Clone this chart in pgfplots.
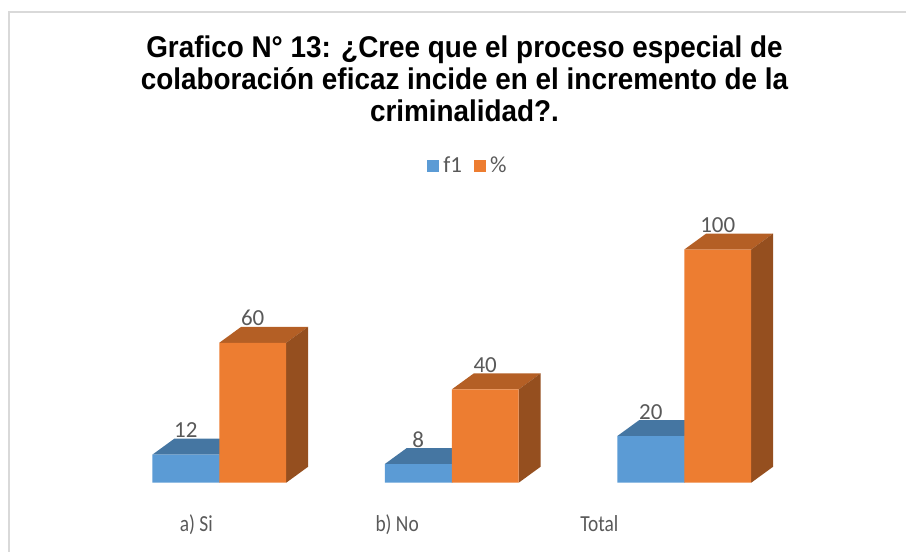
\documentclass[border=0pt]{standalone}
\usepackage{fontspec}
\setmainfont{Carlito}[FakeStretch=0.845]
\newfontfamily\lblfont{Carlito}
\newfontfamily\titlefont{Liberation Sans}[FakeStretch=0.93]
\usepackage{pgfplots}
\pgfplotsset{compat=1.18}
\usepackage{pgfplotstable}
\definecolor{f1front}{HTML}{5B9BD5}
\colorlet{f1top}{f1front!76!black}
\colorlet{f1side}{f1front!62!black}
\definecolor{pfront}{HTML}{ED7D31}
\colorlet{ptop}{pfront!76!black}
\colorlet{pside}{pfront!63!black}
\definecolor{textgray}{HTML}{595959}

\pgfplotstableread{
x f1 pct
0 12 60
1 8 40
2 20 100
}\datatable

\def\bw{0.288}
\def\dx{0.0945}
\def\dy{6.86}
\newcommand\facets[4]{%
  \pgfmathsetmacro\xa{#1}%
  \pgfmathsetmacro\xb{#1+\bw}%
  \pgfmathsetmacro\xc{#1+\dx}%
  \pgfmathsetmacro\xd{#1+\bw+\dx}%
  \pgfmathsetmacro\yv{#2}%
  \pgfmathsetmacro\yt{#2+\dy}%
  \edef\tmp{%
    \noexpand\addplot[fill=#3,draw=none,forget plot] coordinates {(\xa,\yv) (\xc,\yt) (\xd,\yt) (\xb,\yv)} --cycle;
    \noexpand\addplot[fill=#4,draw=none,forget plot] coordinates {(\xb,0) (\xd,\dy) (\xd,\yt) (\xb,\yv)} --cycle;
  }\tmp
}

\begin{document}
\begin{tikzpicture}
\begin{axis}[
  scale only axis,
  width=453.5pt, height=276pt,
  xmin=-0.9431, xmax=2.9538,
  ymin=-29.56, ymax=206.94,
  clip=false,
  axis line style={draw=none},
  major tick length=0pt,
  ytick=\empty,
  xtick={-0.099,0.765,1.635},
  xticklabels={a) Si, b) No, Total},
  xticklabel style={font=\fontsize{11.5}{13}\selectfont, text=textgray, anchor=base, yshift=10.15pt},
  /pgf/number format/assume math mode=true,
  title={Grafico N° 13: ¿Cree que el proceso especial de\\colaboración eficaz incide en el incremento de la\\criminalidad?.},
  title style={at={(0.5127,0.915)}, anchor=north, align=center, inner sep=0pt,
    font=\titlefont\bfseries\fontsize{15}{16}\selectfont},
  legend columns=2,
  legend style={at={(0.5176,0.699)}, anchor=center, draw=none, fill=none,
    font=\lblfont\fontsize{11.5}{13}\selectfont, text=textgray,
    /tikz/every even column/.append style={column sep=4pt}},
  legend image code/.code={\fill[#1] (0pt,-3pt) rectangle (6pt,3pt);},
]
\draw[color=gray!30, line width=1pt] (rel axis cs:1,0.9783) -- (rel axis cs:0.0099,0.9783) -- (rel axis cs:0.0099,0);

\pgfplotsforeachungrouped \i in {0,1,2}{%
  \pgfplotstablegetelem{\i}{f1}\of\datatable
  \let\val\pgfplotsretval
  \facets{\i-\bw}{\val}{f1top}{f1side}%
}
\addplot[ybar, bar width=0.288, bar shift=-0.144, fill=f1front, draw=none,
  nodes near coords,
  every node near coord/.append style={anchor=base, xshift=-16.75pt, yshift=8.5pt, text=textgray, font=\lblfont\fontsize{11.5}{13}\selectfont}]
  table[x=x, y=f1]{\datatable};
\addlegendentry{f1}

\pgfplotsforeachungrouped \i in {0,1,2}{%
  \pgfplotstablegetelem{\i}{pct}\of\datatable
  \let\val\pgfplotsretval
  \facets{\i}{\val}{ptop}{pside}%
}
\addplot[ybar, bar width=0.288, bar shift=0.144, fill=pfront, draw=none,
  nodes near coords,
  every node near coord/.append style={anchor=base, xshift=16.75pt, yshift=8.5pt, text=textgray, font=\lblfont\fontsize{11.5}{13}\selectfont}]
  table[x=x, y=pct]{\datatable};
\addlegendentry{\%}
\end{axis}
\end{tikzpicture}
\end{document}
